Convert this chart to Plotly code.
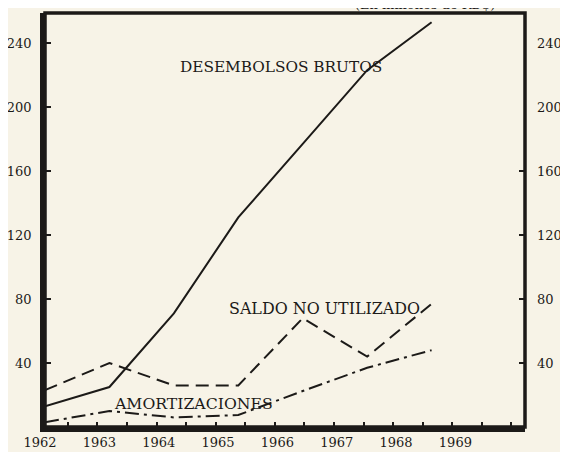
import plotly.graph_objects as go

years = [1962, 1963, 1964, 1965, 1966, 1967, 1968]
desembolsos_brutos = [13, 25, 71, 131, 177, 223, 253]
saldo_no_utilizado = [23, 40, 26, 26, 68, 44, 77]
amortizaciones = [3, 10, 6, 7.5, 22.5, 37, 48]

year_ticks = [1962, 1963, 1964, 1965, 1966, 1967, 1968, 1969]
year_labels = [str(y) for y in year_ticks]
y_ticks = [40, 80, 120, 160, 200, 240]
y_labels = [str(v) for v in y_ticks]
right_marks = [40, 80, 120, 160]

INK = "#1c1a18"
PAPER = "#f7f3e7"
FONT = "DejaVu Serif"

fig = go.Figure()
fig.add_trace(go.Scatter(x=years, y=desembolsos_brutos, mode="lines",
                         line=dict(color=INK, width=2), hoverinfo="skip"))
fig.add_trace(go.Scatter(x=years, y=saldo_no_utilizado, mode="lines",
                         line=dict(color=INK, width=2, dash="13px,7px"), hoverinfo="skip"))
fig.add_trace(go.Scatter(x=years, y=amortizaciones, mode="lines",
                         line=dict(color=INK, width=2, dash="14px,5px,3px,5px"), hoverinfo="skip"))
# empty traces so the overlay axes exist
fig.add_trace(go.Scatter(x=[], y=[], xaxis="x2", yaxis="y2", showlegend=False))
fig.add_trace(go.Scatter(x=[], y=[], xaxis="x3", yaxis="y3", showlegend=False))

yr = [0, 258.75]
tf = dict(family=FONT, size=13, color=INK)
common = dict(automargin=False, showgrid=False, zeroline=False)

fig.update_layout(
    width=560, height=444,
    margin=dict(l=37, r=42.5, t=5, b=25),
    paper_bgcolor=PAPER, plot_bgcolor=PAPER,
    showlegend=False,
    xaxis=dict(range=[1962, 1962 + 480.5 / 64.5], showline=True, linewidth=4.5,
               linecolor=INK, ticks="", showticklabels=False, **common),
    xaxis2=dict(overlaying="x", anchor="y", side="bottom",
                range=[1961.999, 1962 + 480.5 / 59.4], tickvals=year_ticks,
                ticktext=year_labels, ticks="", ticklabelshift=-5,
                ticklabelstandoff=6, showline=False, tickfont=tf, **common),
    xaxis3=dict(overlaying="x", anchor="y", side="bottom",
                range=[1962 + 6.7 / 59.2, 1962 + 487.2 / 59.2], tick0=1962, dtick=0.5,
                ticks="inside", ticklen=5, tickwidth=1.5, tickcolor=INK,
                showticklabels=False, showline=False, **common),
    yaxis=dict(range=yr, tickvals=y_ticks, ticktext=y_labels, ticks="inside",
               ticklen=6, tickwidth=2, tickcolor=INK, showline=True, linewidth=4.5,
               linecolor=INK, tickfont=tf, ticklabelstandoff=6, **common),
    yaxis2=dict(overlaying="y", anchor="x", side="right", range=yr,
                tickvals=y_ticks, ticktext=y_labels, ticks="", showline=False,
                tickfont=tf, ticklabelstandoff=11, **common),
    yaxis3=dict(overlaying="y", anchor="x", side="right", range=yr,
                tickvals=right_marks, ticks="inside", ticklen=6, tickwidth=2,
                tickcolor=INK, showticklabels=False, showline=False, **common),
    shapes=[dict(type="rect", xref="paper", yref="paper", x0=0, x1=1, y0=0, y1=1,
                 line=dict(color=INK, width=3.5), layer="above")],
)


def px(x):
    return (x - 45) / 480.5


def py(y):
    return (427 - y) / 414


for txt, cx, cy, fs in [("DESEMBOLSOS BRUTOS", 281, 67, 15.3),
                        ("SALDO NO UTILIZADO", 325, 308, 15.9),
                        ("AMORTIZACIONES", 194, 403, 15.7)]:
    fig.add_annotation(text=txt, x=px(cx), y=py(cy), xref="paper", yref="paper",
                       xanchor="center", yanchor="middle", showarrow=False,
                       font=dict(family=FONT, size=fs, color=INK))
fig.add_annotation(text="(En millones de RD$)", x=px(425), y=py(5), xref="paper",
                   yref="paper", xanchor="center", yanchor="middle", showarrow=False,
                   font=dict(family=FONT, size=13, color=INK))

fig.write_html("out.html")
